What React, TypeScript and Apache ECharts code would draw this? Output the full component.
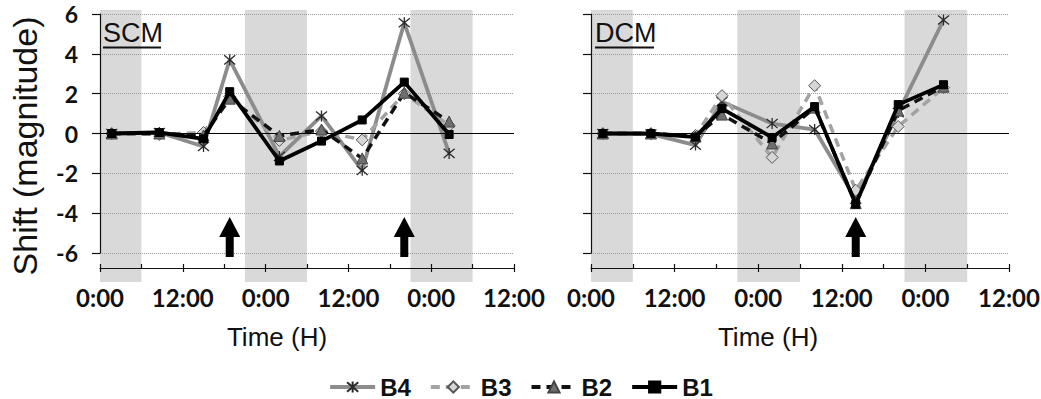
import React, { useEffect, useRef } from 'react';
import * as echarts from 'echarts';

// ---- data ----
const times = [1.7, 8.6, 15, 18.8, 26, 32.1, 38, 44.1, 50.6];
const xTickLabels = ['0:00', '12:00', '0:00', '12:00', '0:00', '12:00'];
const xMax = 60;
const darkPeriods = [[-3, 6], [21, 30], [45, 54]];
const seriesNames = ['B4', 'B3', 'B2', 'B1'];

const scmB4 = [0, 0.05, -0.65, 3.7, -1.15, 0.88, -1.85, 5.56, -1.0];
const scmB3 = [0, -0.05, 0.05, 1.85, -0.35, 0.12, -0.32, 2.0, 0.4];
const scmB2 = [0, 0, -0.1, 1.75, -0.12, 0.2, -1.25, 2.05, 0.6];
const scmB1 = [0, 0.05, -0.27, 2.1, -1.38, -0.38, 0.68, 2.58, -0.05];

const dcmB4 = [0, -0.03, -0.58, 1.6, 0.5, 0.2, -3.3, 1.05, 5.7];
const dcmB3 = [0, 0, -0.1, 1.9, -1.2, 2.4, -2.85, 0.35, 2.3];
const dcmB2 = [0, 0, -0.15, 0.95, -0.5, 1.3, -3.5, 1.15, 2.35];
const dcmB1 = [0, 0, -0.18, 1.25, -0.2, 1.35, -3.55, 1.45, 2.45];

const scmArrows = [18.8, 44.1];
const dcmArrows = [38];
const arrowLevel = -5.2;

const tickFont = 'Lato, "Liberation Sans", sans-serif';
const plainFont = '"Liberation Sans", Arial, sans-serif';
const legendFont = '"Liberation Sans", Arial, sans-serif';

const starPath = 'path://M0 0L10 10M10 0L0 10M5 -1L5 11';
const arrowPath = 'path://M10.5 0L21 20L14.5 20L14.5 40L6.5 40L6.5 20L0 20Z';

const styleFor: Record<string, any> = {
  B4: {
    lineStyle: { color: '#8c8c8c', width: 3.8, type: 'solid' },
    symbol: starPath, symbolSize: 11,
    itemStyle: { color: 'rgba(0,0,0,0)', borderColor: '#2a2a2a', borderWidth: 1.3 },
  },
  B3: {
    lineStyle: { color: '#a3a3a3', width: 3.5, type: [9, 6] },
    symbol: 'diamond', symbolSize: 12,
    itemStyle: { color: '#d6d6d6', borderColor: '#555', borderWidth: 1 },
  },
  B2: {
    lineStyle: { color: '#111', width: 3.5, type: [9, 6] },
    symbol: 'triangle', symbolSize: 11,
    itemStyle: { color: '#6f6f6f', borderColor: '#444', borderWidth: 1 },
  },
  B1: {
    lineStyle: { color: '#000', width: 3.8, type: 'solid' },
    symbol: 'rect', symbolSize: 8,
    itemStyle: { color: '#000', borderColor: '#000', borderWidth: 1 },
  },
};

function panelSeries(values: number[][], xIdx: number, yIdx: number, bandX: number, bandY: number, arrows: number[]) {
  const out: any[] = [];
  out.push({
    type: 'custom',
    xAxisIndex: bandX,
    yAxisIndex: bandY,
    z: -2,
    silent: true,
    data: darkPeriods,
    renderItem: (params: any, api: any) => {
      const p0 = api.coord([api.value(0), 1]);
      const p1 = api.coord([api.value(1), 0]);
      const rect = echarts.graphic.clipRectByRect(
        { x: p0[0], y: p0[1], width: p1[0] - p0[0], height: p1[1] - p0[1] },
        params.coordSys
      );
      if (!rect) return null;
      return { type: 'rect', shape: rect, style: { fill: '#d9d9d9' } };
    },
  });
  out.push({
    type: 'line',
    xAxisIndex: xIdx,
    yAxisIndex: yIdx,
    data: [],
    z: 1,
    silent: true,
    markLine: {
      silent: true,
      symbol: 'none',
      label: { show: false },
      lineStyle: { color: '#000', width: 1.2, type: 'solid' },
      data: [{ yAxis: 0 }],
    },
  });
  seriesNames.forEach((name, k) => {
    const st = styleFor[name];
    out.push({
      type: 'line',
      name,
      xAxisIndex: xIdx,
      yAxisIndex: yIdx,
      data: times.map((t, i) => [t, values[k][i]]),
      showSymbol: true,
      symbol: st.symbol,
      symbolSize: st.symbolSize,
      lineStyle: st.lineStyle,
      itemStyle: st.itemStyle,
      z: 3 + k,
    });
  });
  out.push({
    type: 'scatter',
    xAxisIndex: xIdx,
    yAxisIndex: yIdx,
    symbol: arrowPath,
    symbolSize: [21, 40],
    itemStyle: { color: '#000', opacity: 1 },
    silent: true,
    z: 2,
    data: arrows.map((t) => [t, arrowLevel]),
  });
  return out;
}

function mainXAxes(gridIndex: number) {
  return [
    {
      type: 'value', gridIndex, min: 0, max: xMax, interval: 12,
      position: 'bottom', offset: 15,
      axisLine: { onZero: false, lineStyle: { color: '#111', width: 1.2 } },
      axisTick: { show: true, length: 4, lineStyle: { color: '#111', width: 1.2 } },
      axisLabel: {
        margin: 17,
        fontFamily: tickFont, fontWeight: 'bold', fontSize: 24, color: '#111',
        formatter: (v: number) => xTickLabels[Math.round(v / 12)] ?? '',
      },
      splitLine: { show: false },
    },
    {
      type: 'value', gridIndex, min: 0, max: xMax, interval: 6,
      position: 'bottom', offset: 15,
      axisLine: { show: false, onZero: false },
      axisTick: { show: true, inside: true, length: 4, lineStyle: { color: '#111', width: 1.2 } },
      axisLabel: { show: false },
      splitLine: { show: false },
    },
  ];
}

function hiddenAxis(gridIndex: number, min: number, max: number) {
  return { type: 'value', gridIndex, min, max, show: false, axisLine: { onZero: false } };
}

function mainYAxis(gridIndex: number, showLabels: boolean) {
  return {
    type: 'value', gridIndex, min: -6, max: 6, interval: 2,
    axisLine: { show: true, onZero: false, lineStyle: { color: '#111', width: 1.2 } },
    axisTick: { show: true, length: 8, lineStyle: { color: '#111', width: 1.2 } },
    axisLabel: {
      show: showLabels, margin: 22,
      fontFamily: tickFont, fontWeight: 'bold', fontSize: 23, color: '#111',
    },
    splitLine: { show: true, lineStyle: { color: '#9a9a9a', width: 1, type: 'dotted' } },
  };
}

export default function App() {
  const ref = useRef<HTMLDivElement>(null);
  useEffect(() => {
    if (!ref.current) return;
    const chart = echarts.init(ref.current, undefined, { renderer: 'svg' });
    const option: any = {
      animation: false,
      backgroundColor: '#fff',
      textStyle: { fontFamily: plainFont },
      grid: [
        { left: 100, top: 14, width: 414, height: 239, outerBoundsMode: 'none', containLabel: false },
        { left: 100, top: 10, width: 414, height: 272, outerBoundsMode: 'none', containLabel: false },
        { left: 591, top: 14, width: 418, height: 239, outerBoundsMode: 'none', containLabel: false },
        { left: 591, top: 10, width: 418, height: 272, outerBoundsMode: 'none', containLabel: false },
      ],
      xAxis: [
        ...mainXAxes(0),
        hiddenAxis(1, 0, xMax),
        ...mainXAxes(2),
        hiddenAxis(3, 0, xMax),
      ],
      yAxis: [
        mainYAxis(0, true),
        hiddenAxis(1, 0, 1),
        mainYAxis(2, false),
        hiddenAxis(3, 0, 1),
      ],
      legend: {
        data: seriesNames,
        left: 'center',
        top: 370,
        itemWidth: 45,
        itemHeight: 14,
        itemGap: 18,
        lineStyle: { width: 4 },
        textStyle: { fontFamily: legendFont, fontWeight: 'bold', fontSize: 24, color: '#111' },
        selectedMode: false,
      },
      series: [
        ...panelSeries([scmB4, scmB3, scmB2, scmB1], 0, 0, 2, 1, scmArrows),
        ...panelSeries([dcmB4, dcmB3, dcmB2, dcmB1], 3, 2, 5, 3, dcmArrows),
      ],
      graphic: [
        {
          type: 'text', x: 25, y: 146, rotation: Math.PI / 2,
          style: {
            text: 'Shift (magnitude)', font: `34px ${plainFont}`, fill: '#111',
            textAlign: 'center', textVerticalAlign: 'middle', align: 'center', verticalAlign: 'middle',
          },
        },
        {
          type: 'text', x: 277, y: 337,
          style: {
            text: 'Time (H)', font: `26px ${plainFont}`, fill: '#111',
            textAlign: 'center', textVerticalAlign: 'middle', align: 'center', verticalAlign: 'middle',
          },
        },
        {
          type: 'text', x: 768, y: 337,
          style: {
            text: 'Time (H)', font: `26px ${plainFont}`, fill: '#111',
            textAlign: 'center', textVerticalAlign: 'middle', align: 'center', verticalAlign: 'middle',
          },
        },
        {
          type: 'text', x: 103, y: 33,
          style: {
            text: 'SCM', font: `27px ${plainFont}`, fill: '#111',
            textAlign: 'left', textVerticalAlign: 'middle', align: 'left', verticalAlign: 'middle',
          },
        },
        { type: 'line', shape: { x1: 103, y1: 47.5, x2: 161, y2: 47.5 }, style: { stroke: '#111', lineWidth: 2.2 } },
        {
          type: 'text', x: 595, y: 33,
          style: {
            text: 'DCM', font: `27px ${plainFont}`, fill: '#111',
            textAlign: 'left', textVerticalAlign: 'middle', align: 'left', verticalAlign: 'middle',
          },
        },
        { type: 'line', shape: { x1: 595, y1: 47.5, x2: 654, y2: 47.5 }, style: { stroke: '#111', lineWidth: 2.2 } },
      ],
    };
    chart.setOption(option);
    return () => chart.dispose();
  }, []);
  return (
    <div
      ref={ref}
      style={{ position: 'fixed', left: 0, top: 0, width: 1041, height: 399, background: '#fff' }}
    />
  );
}
